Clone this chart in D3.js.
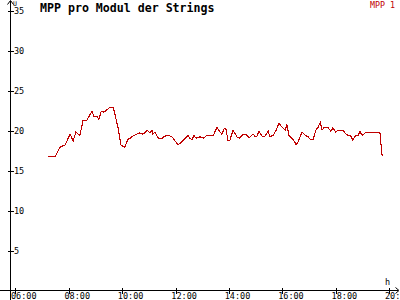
<!DOCTYPE html>
<html>
<head>
<meta charset="utf-8">
<script src="https://cdn.jsdelivr.net/npm/d3@7"></script>
<style>
  html, body { margin: 0; padding: 0; background: #fff; overflow: hidden; }
  text { font-family: "DejaVu Sans Mono", "Liberation Mono", monospace; }
</style>
</head>
<body>
<div id="chart"></div>
<script>
// times of the samples (HH:MM) and MPP values
const times = [
  "07:13", "07:29", "07:40", "07:52", "08:03", "08:10", "08:16", "08:25", "08:32", "08:41",
  "08:52", "08:57", "09:04", "09:08", "09:13", "09:19", "09:33", "09:40", "09:51", "09:57",
  "10:06", "10:13", "10:18", "10:24", "10:33", "10:40", "10:45", "10:51", "10:56", "11:03",
  "11:07", "11:09", "11:14", "11:21", "11:30", "11:36", "11:43", "11:52", "12:03", "12:05",
  "12:10", "12:17", "12:26", "12:28", "12:32", "12:37", "12:41", "12:46", "12:55", "13:02",
  "13:11", "13:17", "13:22", "13:24", "13:33", "13:40", "13:44", "13:49", "13:53", "13:58",
  "14:02", "14:09", "14:18", "14:23", "14:32", "14:41", "14:45", "14:54", "14:58", "15:03",
  "15:07", "15:14", "15:21", "15:28", "15:32", "15:39", "15:46", "15:52", "16:01", "16:06",
  "16:10", "16:15", "16:24", "16:31", "16:35", "16:44", "16:51", "16:58", "17:02", "17:09",
  "17:15", "17:20", "17:25", "17:29", "17:34", "17:42", "17:49", "17:53", "18:00", "18:05",
  "18:16", "18:20", "18:27", "18:34", "18:38", "18:43", "18:50", "18:54", "18:59", "19:06",
  "19:39", "19:44"
];
const mpp1 = [
  16.7, 16.7, 17.9, 18.2, 19.55, 18.7, 19.8, 19.4, 21.2, 21.3,
  22.4, 21.7, 21.7, 21.4, 22.4, 22.3, 22.9, 22.9, 20.3, 18.2,
  17.9, 18.9, 19.05, 19.3, 19.55, 19.7, 19.55, 19.7, 20.05, 19.7,
  20.05, 19.55, 19.8, 19.05, 19.05, 19.3, 19.4, 19.2, 18.4, 18.2,
  18.4, 18.8, 19.3, 19.4, 19.05, 18.8, 19.4, 19.05, 19.2, 19.05,
  19.4, 19.4, 19.4, 19.3, 20.4, 19.8, 19.55, 20.2, 20.2, 18.7,
  18.8, 20.05, 19.2, 19.05, 19.55, 19.4, 19.05, 19.55, 19.3, 19.3,
  19.9, 19.3, 19.3, 19.9, 19.2, 19.4, 20.05, 20.9, 20.3, 20.05,
  20.7, 19.3, 18.9, 18.2, 18.55, 19.8, 19.4, 19.2, 18.9, 18.9,
  20.05, 20.4, 21.05, 20.05, 20.4, 20.4, 19.9, 20.3, 19.8, 20.05,
  20.05, 19.7, 19.4, 19.3, 18.8, 19.3, 19.4, 19.9, 19.4, 19.7,
  19.7, 16.8
];
const yTicks = [5, 10, 15, 20, 25, 30, 35];
const xTickLabels = ["06:00", "08:00", "10:00", "12:00", "14:00", "16:00", "18:00", "20:00"];

const W = 400, H = 300;
const lineColor = "#c00000";
const parseTime = d3.timeParse("%H:%M");

const svg = d3.select("#chart").append("svg")
  .attr("width", W)
  .attr("height", H);

const x = d3.scaleTime()
  .domain([parseTime("06:00"), parseTime("20:00")])
  .range([15.3, 389.3]);

const y = d3.scaleLinear()
  .domain([0, 35])
  .range([290.5, 10.5]);

// axis lines (crossing style with arrows)
svg.append("line")
  .attr("x1", 10.5).attr("x2", 10.5)
  .attr("y1", 1).attr("y2", H)
  .attr("stroke", "#000")
  .attr("shape-rendering", "crispEdges");
svg.append("path")
  .attr("d", "M7.5,4.5 L10.5,0.5 L13.5,4.5")
  .attr("fill", "none").attr("stroke", "#000");

svg.append("line")
  .attr("x1", 0).attr("x2", 398)
  .attr("y1", 290.5).attr("y2", 290.5)
  .attr("stroke", "#000")
  .attr("shape-rendering", "crispEdges");
svg.append("path")
  .attr("d", "M395.5,287.5 L399,290.5 L395.5,293.5")
  .attr("fill", "none").attr("stroke", "#000");

// y axis
const yAxis = svg.append("g")
  .attr("transform", "translate(10.5,0)")
  .call(d3.axisRight(y).tickValues(yTicks).tickSize(3).tickFormat(d3.format("d")));
yAxis.select(".domain").remove();
yAxis.selectAll(".tick line")
  .attr("x1", -3)
  .attr("shape-rendering", "crispEdges");
yAxis.selectAll(".tick text")
  .attr("x", 3.5)
  .attr("dy", "0.4em")
  .style("font-size", "8.5px")
  .style("font-family", "'DejaVu Sans Mono', monospace")
  .attr("fill", "#000");

// x axis
const xAxis = svg.append("g")
  .attr("transform", "translate(0,290.5)")
  .call(d3.axisBottom(x)
    .tickValues(xTickLabels.map(parseTime))
    .tickSize(3)
    .tickFormat(d3.timeFormat("%H:%M")));
xAxis.select(".domain").remove();
xAxis.selectAll(".tick line")
  .attr("y1", -3)
  .attr("shape-rendering", "crispEdges");
xAxis.selectAll(".tick text")
  .attr("x", 8)
  .attr("y", 8.5)
  .attr("dy", 0)
  .attr("text-anchor", "middle")
  .style("font-size", "8.5px")
  .style("font-family", "'DejaVu Sans Mono', monospace")
  .attr("fill", "#000");

// axis unit labels
svg.append("text")
  .attr("x", 13).attr("y", 6)
  .style("font-size", "6.5px")
  .text("U");
svg.append("text")
  .attr("x", 385).attr("y", 285)
  .style("font-size", "8.5px")
  .text("h");

// title
svg.append("text")
  .attr("x", 40).attr("y", 12)
  .style("font-size", "11.6px")
  .style("font-weight", "bold")
  .text("MPP pro Modul der Strings");

// legend
svg.append("text")
  .attr("x", 395).attr("y", 8)
  .attr("text-anchor", "end")
  .style("font-size", "8.3px")
  .attr("fill", lineColor)
  .text("MPP 1");

// data line
const points = times.map((t, i) => ({ t: parseTime(t), v: mpp1[i] }));
const line = d3.line()
  .x(d => x(d.t))
  .y(d => y(d.v));

svg.append("path")
  .datum(points)
  .attr("d", line)
  .attr("fill", "none")
  .attr("stroke", lineColor)
  .attr("stroke-width", 1.1)
  .attr("shape-rendering", "crispEdges");
</script>
</body>
</html>
